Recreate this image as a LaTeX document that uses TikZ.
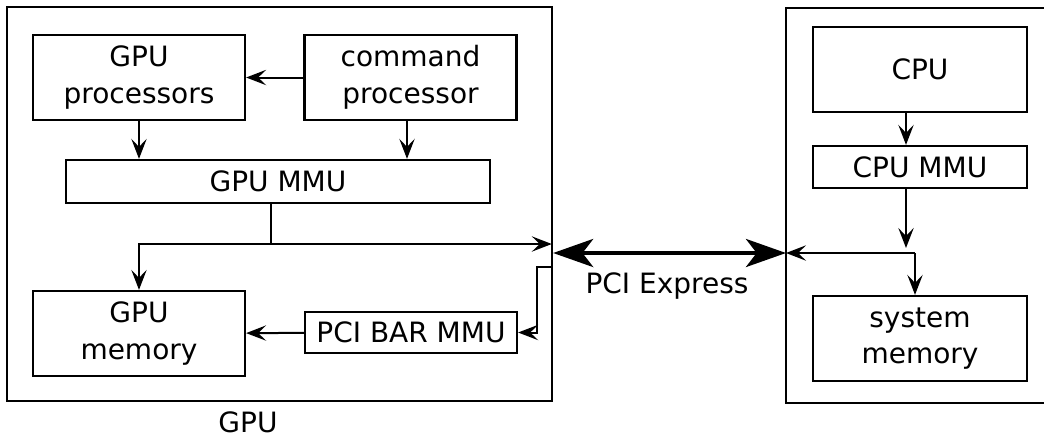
\documentclass[tikz,border=0pt]{standalone}
\usepackage{fontspec}
\setmainfont{DejaVu Sans}
\usepackage{tikz}
\usetikzlibrary{positioning, arrows.meta}

\begin{document}
\begin{tikzpicture}[
    x=0.75pt, y=-0.75pt,
    every node/.style={align=center, font=\fontsize{21}{27.5}\selectfont},
    unit/.style={draw, line width=1.7pt, inner sep=0pt, minimum width=159pt},
    frame/.style={draw, line width=1.7pt},
    wire/.style={draw, line width=1.5pt},
    link/.style={wire, -{Stealth[length=15pt, width=11.5pt, inset=6pt]}},
    pcie/.style={draw, line width=3.2pt, {Stealth[length=30pt, width=21pt, inset=8pt]}-{Stealth[length=30pt, width=21pt, inset=8pt]}}
]
\useasboundingbox (0,0) rectangle (1044,437);

% graphics card
\node[frame, minimum width=408.75pt, minimum height=295.5pt] (gpu) at (279.5,204) {};
\node[inner sep=1pt] (gpulabel) at (248,422) {GPU};
\node[unit, minimum height=63.75pt] (gpuproc) at (139,77.5) {GPU\\processors};
\node[unit, minimum height=63.75pt] (cmdproc) at (410.5,77.5) {command\\processor};
\node[unit, minimum width=318pt, minimum height=32.25pt] (gpummu) at (278,181.5) {GPU MMU};
\node[unit, minimum height=63.75pt] (vram) at (139,333.5) {GPU\\memory};
\node[unit, minimum height=30.75pt] (barmmu) at (411,332.5) {PCI BAR MMU};

% host side, open towards the right
\coordinate (hostnw) at (786,8);
\coordinate (hostsw) at (786,403);
\draw[frame] (1044,8) -- (hostnw) -- (hostsw) -- (1044,403);
\node[unit, minimum width=160.5pt, minimum height=63.75pt] (cpu) at (920,69.5) {CPU};
\node[unit, minimum width=160.5pt, minimum height=31.5pt] (cpummu) at (920,167) {CPU MMU};
\node[unit, minimum width=160.5pt, minimum height=63.75pt] (sysmem) at (920,338.5) {system\\memory};

% bus junctions
\coordinate (gbus) at (271,244);
\coordinate (barin) at (552,267);
\coordinate (hbus) at (915,253);
\coordinate (cpux) at (906,248);
\coordinate (hostw) at (786,253);

% links on the card
\draw[link] (cmdproc) -- (gpuproc);
\draw[link] (gpuproc) -- (gpummu.north -| gpuproc);
\draw[link] (cmdproc.south -| 407,0) -- (gpummu.north -| 407,0);
\draw[wire] (gbus |- gpummu.south) -- (gbus);
\draw[link] (gbus) -- ([xshift=-1pt]gbus -| gpu.east);
\draw[link] (gbus) -| (vram.north);
\draw[link] (barin) -- ++(-15,0) |- (barmmu.east);
\draw[link] (barmmu) -- (vram);

% links on the host
\draw[link] (cpu.south -| cpux) -- (cpummu.north -| cpux);
\draw[link] (cpummu.south -| cpux) -- (cpux);
\draw[link] (hbus) -- (hostw);
\draw[link] (hbus) -- (hbus |- sysmem.north);

% the bus between both
\draw[pcie] (gpu.east |- hostw) -- (hostw);
\node (pcilabel) at (667,286) {PCI Express};
\end{tikzpicture}
\end{document}
